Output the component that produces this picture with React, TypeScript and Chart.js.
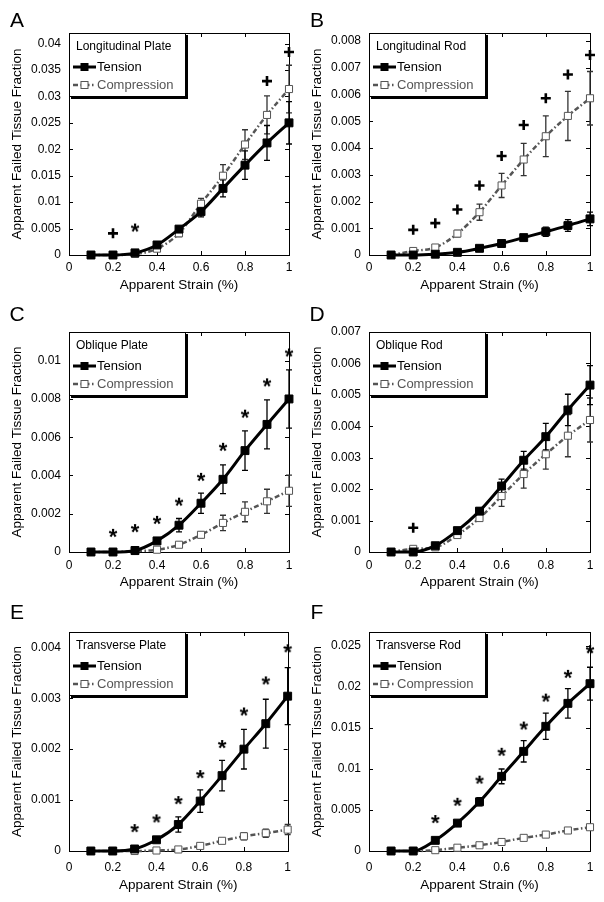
import React, { useEffect, useRef } from "react";
import { Chart, registerables } from "chart.js";

Chart.register(...registerables);

const FONT = "'Liberation Sans', Arial, Helvetica, sans-serif";
Chart.defaults.font.family = FONT;
Chart.defaults.color = "#000";

// ---------------- data ----------------
const strain = [0.1, 0.2, 0.3, 0.4, 0.5, 0.6, 0.7, 0.8, 0.9, 1.0];
const xTicks = [0, 0.2, 0.4, 0.6, 0.8, 1];
const seriesNames = ["Tension", "Compression"];

// A - Longitudinal Plate
const aTension = [0, 0, 0.0004, 0.0019, 0.0049, 0.0082, 0.0126, 0.017, 0.0212, 0.025];
const aTensionErr = [0, 0, 0.0001, 0.0002, 0.0005, 0.001, 0.0016, 0.0027, 0.0033, 0.004];
const aCompression = [0, 0, 0.0002, 0.0012, 0.0041, 0.0097, 0.015, 0.0209, 0.0265, 0.0314];
const aCompressionErr = [0, 0, 0.0001, 0.0003, 0.0006, 0.001, 0.0021, 0.0028, 0.0036, 0.0045];
const aPlus = [null, 0.0041, null, null, null, null, null, null, 0.0329, 0.0384];
const aStar = [null, null, 0.0052, null, null, null, null, null, null, null];
const aYTicks = [0, 0.005, 0.01, 0.015, 0.02, 0.025, 0.03, 0.035, 0.04];

// B - Longitudinal Rod
const bTension = [0, 0, 0.00003, 0.0001, 0.00025, 0.00043, 0.00065, 0.00087, 0.0011, 0.00135];
const bTensionErr = [0, 0, 0.00002, 0.00003, 0.00004, 0.00006, 0.0001, 0.00017, 0.00022, 0.00025];
const bCompression = [0, 0.00015, 0.00028, 0.0008, 0.0016, 0.0026, 0.00357, 0.00444, 0.0052, 0.00586];
const bCompressionErr = [0, 0.00003, 0.00005, 0.00012, 0.0003, 0.00045, 0.0006, 0.00076, 0.00092, 0.001];
const bPlus = [null, 0.00094, 0.00119, 0.0017, 0.0026, 0.0037, 0.00486, 0.00586, 0.00675, 0.00748];
const bStar = [null, null, null, null, null, null, null, null, null, null];
const bYTicks = [0, 0.001, 0.002, 0.003, 0.004, 0.005, 0.006, 0.007, 0.008];

// C - Oblique Plate
const cTension = [0, 0, 0.00008, 0.00058, 0.0014, 0.00255, 0.0038, 0.0053, 0.00667, 0.008];
const cTensionErr = [0, 0, 0.00003, 0.0001, 0.00035, 0.00053, 0.00075, 0.00103, 0.00128, 0.00152];
const cCompression = [0, 0, 0.00005, 0.00012, 0.00038, 0.0009, 0.00152, 0.0021, 0.00265, 0.0032];
const cCompressionErr = [0, 0, 0.00002, 0.00005, 0.0001, 0.00015, 0.0004, 0.00052, 0.00063, 0.00082];
const cPlus = [null, null, null, null, null, null, null, null, null, null];
const cStar = [null, 0.001, 0.00125, 0.00168, 0.00263, 0.00393, 0.0055, 0.00723, 0.00887, 0.01043];
const cYTicks = [0, 0.002, 0.004, 0.006, 0.008, 0.01];

// D - Oblique Rod
const dTension = [0, 0, 0.0002, 0.00068, 0.0013, 0.0021, 0.00292, 0.00367, 0.00452, 0.00531];
const dTensionErr = [0, 0.00002, 0.00003, 0.00005, 0.0001, 0.00022, 0.00028, 0.00042, 0.0005, 0.00062];
const dCompression = [0, 0.0001, 0.00015, 0.00054, 0.00108, 0.00178, 0.00248, 0.00311, 0.0037, 0.0042];
const dCompressionErr = [0, 0.00002, 0.00003, 0.00005, 0.0001, 0.00033, 0.00045, 0.00047, 0.00067, 0.0007];
const dPlus = [null, 0.00077, null, null, null, null, null, null, null, null];
const dStar = [null, null, null, null, null, null, null, null, null, null];
const dYTicks = [0, 0.001, 0.002, 0.003, 0.004, 0.005, 0.006, 0.007];

// E - Transverse Plate
const eTension = [0, 0, 0.00004, 0.00022, 0.00052, 0.00098, 0.00148, 0.002, 0.0025, 0.00304];
const eTensionErr = [0, 0, 0.00001, 0.00003, 0.00015, 0.00022, 0.0003, 0.00039, 0.00048, 0.00056];
const eCompression = [0, 0, 0, 0.00001, 0.00003, 0.0001, 0.0002, 0.00029, 0.00035, 0.00042];
const eCompressionErr = [0, 0, 0, 0.00001, 0.00002, 0.00003, 0.00004, 0.00007, 0.00008, 0.0001];
const ePlus = [null, null, null, null, null, null, null, null, null, null];
const eStar = [null, null, 0.00045, 0.00064, 0.001, 0.00151, 0.0021, 0.00274, 0.00335, 0.00398];
const eYTicks = [0, 0.001, 0.002, 0.003, 0.004];

// F - Transverse Rod
const fTension = [0, 0, 0.0013, 0.0034, 0.006, 0.0091, 0.01215, 0.0152, 0.018, 0.0204];
const fTensionErr = [0, 0, 0.0001, 0.0002, 0.0005, 0.0009, 0.0013, 0.0016, 0.0018, 0.002];
const fCompression = [0, 0, 0.0001, 0.0004, 0.0007, 0.0011, 0.0016, 0.002, 0.0025, 0.0029];
const fCompressionErr = [0, 0, 0.00003, 0.00005, 0.0001, 0.0001, 0.00012, 0.00015, 0.00018, 0.0002];
const fPlus = [null, null, null, null, null, null, null, null, null, null];
const fStar = [null, null, 0.0039, 0.006, 0.0087, 0.0121, 0.0153, 0.0187, 0.0216, 0.0246];
const fYTicks = [0, 0.005, 0.01, 0.015, 0.02, 0.025];

type PanelData = {
  letter: string;
  name: string;
  tension: number[];
  tensionErr: number[];
  compression: number[];
  compressionErr: number[];
  plus: (number | null)[];
  star: (number | null)[];
  yMax: number;
  yTicks: number[];
};

const panels: PanelData[] = [
  { letter: "A", name: "Longitudinal Plate", tension: aTension, tensionErr: aTensionErr, compression: aCompression, compressionErr: aCompressionErr, plus: aPlus, star: aStar, yMax: 0.042, yTicks: aYTicks },
  { letter: "B", name: "Longitudinal Rod", tension: bTension, tensionErr: bTensionErr, compression: bCompression, compressionErr: bCompressionErr, plus: bPlus, star: bStar, yMax: 0.0083, yTicks: bYTicks },
  { letter: "C", name: "Oblique Plate", tension: cTension, tensionErr: cTensionErr, compression: cCompression, compressionErr: cCompressionErr, plus: cPlus, star: cStar, yMax: 0.0115, yTicks: cYTicks },
  { letter: "D", name: "Oblique Rod", tension: dTension, tensionErr: dTensionErr, compression: dCompression, compressionErr: dCompressionErr, plus: dPlus, star: dStar, yMax: 0.007, yTicks: dYTicks },
  { letter: "E", name: "Transverse Plate", tension: eTension, tensionErr: eTensionErr, compression: eCompression, compressionErr: eCompressionErr, plus: ePlus, star: eStar, yMax: 0.0043, yTicks: eYTicks },
  { letter: "F", name: "Transverse Rod", tension: fTension, tensionErr: fTensionErr, compression: fCompression, compressionErr: fCompressionErr, plus: fPlus, star: fStar, yMax: 0.0267, yTicks: fYTicks },
];

// ---------------- layout ----------------
type Layout = { x: number; y: number; w: number; h: number; top: number; xAxisH: number; padRight: number; xTickPad: number; xTitlePad: number; letterY: number };
const layouts: Layout[] = [
  { x: 0, y: 0, w: 300, h: 300, top: 33, xAxisH: 45, padRight: 11, xTickPad: 5, xTitlePad: 7, letterY: 21 },
  { x: 300, y: 0, w: 304, h: 300, top: 33, xAxisH: 45, padRight: 14, xTickPad: 5, xTitlePad: 7, letterY: 21 },
  { x: 0, y: 300, w: 300, h: 300, top: 32, xAxisH: 48, padRight: 11, xTickPad: 6, xTitlePad: 10, letterY: 15 },
  { x: 300, y: 300, w: 304, h: 300, top: 32, xAxisH: 48, padRight: 14, xTickPad: 6, xTitlePad: 10, letterY: 15 },
  { x: 0, y: 600, w: 300, h: 302, top: 32, xAxisH: 51, padRight: 11, xTickPad: 9, xTitlePad: 9, letterY: 13 },
  { x: 300, y: 600, w: 304, h: 302, top: 32, xAxisH: 51, padRight: 14, xTickPad: 9, xTitlePad: 9, letterY: 13 },
];

const COMP_COLOR = "#555555";
const COMP_DASH = [5, 2.5, 1.5, 2.5];

const fmt = (v: number) => String(+Number(v).toPrecision(6));

let starImg: HTMLCanvasElement | null = null;
function getStar() {
  if (starImg) return starImg;
  const c = document.createElement("canvas");
  c.width = 16;
  c.height = 16;
  const g = c.getContext("2d")!;
  g.fillStyle = "#000";
  g.font = `bold 22px ${FONT}`;
  g.textAlign = "center";
  g.textBaseline = "alphabetic";
  const m = g.measureText("*");
  const top = -m.actualBoundingBoxAscent;
  const bot = m.actualBoundingBoxDescent;
  g.fillText("*", 8, 8 - (top + bot) / 2);
  starImg = c;
  return c;
}

function toPoints(vals: (number | null)[]) {
  return strain
    .map((x, i) => ({ x, y: vals[i] }))
    .filter((d) => d.y !== null && d.y !== undefined) as { x: number; y: number }[];
}

function makePlugin(p: PanelData, L: Layout) {
  return {
    id: "panelDecor",
    beforeDatasetsDraw(chart: any) {
      const { ctx, chartArea, scales } = chart;
      const { left, right, top, bottom } = chartArea;
      const xs = scales.x;
      const ys = scales.y;
      ctx.save();
      ctx.strokeStyle = "#000";
      ctx.lineWidth = 1;
      ctx.strokeRect(Math.round(left) + 0.5, Math.round(top) + 0.5, Math.round(right - left), Math.round(bottom - top));
      ctx.beginPath();
      xTicks.forEach((v) => {
        const px = Math.round(xs.getPixelForValue(v)) + 0.5;
        ctx.moveTo(px, bottom);
        ctx.lineTo(px, bottom - 4);
        ctx.moveTo(px, top);
        ctx.lineTo(px, top + 4);
      });
      p.yTicks.forEach((v) => {
        const py = Math.round(ys.getPixelForValue(v)) + 0.5;
        ctx.moveTo(left, py);
        ctx.lineTo(left + 4, py);
        ctx.moveTo(right, py);
        ctx.lineTo(right - 4, py);
      });
      ctx.stroke();
      // error bars
      const drawErr = (vals: number[], errs: number[], color: string) => {
        ctx.strokeStyle = color;
        ctx.lineWidth = 1.3;
        ctx.beginPath();
        vals.forEach((v, i) => {
          const e = errs[i];
          if (!e) return;
          const px = xs.getPixelForValue(strain[i]);
          const y1 = ys.getPixelForValue(v + e);
          const y2 = ys.getPixelForValue(Math.max(0, v - e));
          ctx.moveTo(px, y1);
          ctx.lineTo(px, y2);
          ctx.moveTo(px - 3, y1);
          ctx.lineTo(px + 3, y1);
          ctx.moveTo(px - 3, y2);
          ctx.lineTo(px + 3, y2);
        });
        ctx.stroke();
      };
      drawErr(p.compression, p.compressionErr, "#333");
      drawErr(p.tension, p.tensionErr, "#000");
      ctx.restore();
    },
    afterDatasetsDraw(chart: any) {
      const { ctx, chartArea } = chart;
      const Lx = Math.round(chartArea.left);
      const T = Math.round(chartArea.top);
      const w = 116;
      const h = 63;
      ctx.save();
      ctx.fillStyle = "#fff";
      ctx.fillRect(Lx, T, w, h);
      ctx.strokeStyle = "#000";
      ctx.lineWidth = 1;
      ctx.strokeRect(Lx + 0.5, T + 0.5, w, h);
      ctx.lineWidth = 2.5;
      ctx.beginPath();
      ctx.moveTo(Lx + w + 1.75, T + 2);
      ctx.lineTo(Lx + w + 1.75, T + h + 1.75);
      ctx.lineTo(Lx + 2, T + h + 1.75);
      ctx.stroke();
      ctx.textBaseline = "middle";
      ctx.textAlign = "left";
      ctx.fillStyle = "#000";
      ctx.font = `12px ${FONT}`;
      ctx.fillText(p.name, Lx + 7, T + 14);
      // tension entry
      const y1 = T + 34;
      ctx.strokeStyle = "#000";
      ctx.lineWidth = 3;
      ctx.beginPath();
      ctx.moveTo(Lx + 4, y1);
      ctx.lineTo(Lx + 27, y1);
      ctx.stroke();
      ctx.fillRect(Lx + 15.5 - 4, y1 - 4, 8, 8);
      ctx.font = `13px ${FONT}`;
      ctx.fillText(chart.data.datasets[0].label, Lx + 28, y1);
      // compression entry
      const y2 = T + 52;
      ctx.strokeStyle = COMP_COLOR;
      ctx.lineWidth = 2.5;
      ctx.setLineDash(COMP_DASH);
      ctx.beginPath();
      ctx.moveTo(Lx + 4, y2);
      ctx.lineTo(Lx + 27, y2);
      ctx.stroke();
      ctx.setLineDash([]);
      ctx.fillStyle = "#fff";
      ctx.fillRect(Lx + 15.5 - 3.5, y2 - 3.5, 7, 7);
      ctx.lineWidth = 1;
      ctx.strokeRect(Lx + 15.5 - 3.5, y2 - 3.5, 7, 7);
      ctx.fillStyle = COMP_COLOR;
      ctx.fillText(chart.data.datasets[1].label, Lx + 28, y2);
      ctx.restore();
    },
    afterDraw(chart: any) {
      const { ctx } = chart;
      ctx.save();
      ctx.fillStyle = "#000";
      ctx.font = `21px ${FONT}`;
      ctx.textAlign = "center";
      ctx.textBaseline = "middle";
      ctx.fillText(p.letter, 17, L.letterY);
      ctx.restore();
    },
  };
}

function Panel({ p, L }: { p: PanelData; L: Layout }) {
  const ref = useRef<HTMLCanvasElement>(null);
  useEffect(() => {
    if (!ref.current) return;
    const chart = new Chart(ref.current, {
      type: "line",
      data: {
        datasets: [
          {
            label: seriesNames[0],
            data: toPoints(p.tension),
            borderColor: "#000",
            borderWidth: 3,
            pointStyle: "rect",
            pointRadius: 5.6,
            pointBackgroundColor: "#000",
            pointBorderColor: "#000",
            pointBorderWidth: 1,
            cubicInterpolationMode: "monotone",
            clip: false,
          },
          {
            label: seriesNames[1],
            data: toPoints(p.compression),
            borderColor: COMP_COLOR,
            borderWidth: 2.5,
            borderDash: COMP_DASH,
            pointStyle: "rect",
            pointRadius: 5,
            pointBackgroundColor: "#fff",
            pointBorderColor: COMP_COLOR,
            pointBorderWidth: 1,
            cubicInterpolationMode: "monotone",
            clip: false,
          },
          {
            label: "+",
            data: toPoints(p.plus),
            showLine: false,
            pointStyle: "cross",
            pointRadius: 5,
            pointBorderWidth: 2.6,
            pointBorderColor: "#000",
            borderColor: "#000",
            clip: false,
          },
          {
            label: "*",
            data: toPoints(p.star),
            showLine: false,
            pointStyle: getStar(),
            pointRadius: 6,
            clip: false,
          },
        ],
      } as any,
      options: {
        animation: false,
        responsive: false,
        events: [],
        layout: { padding: { top: L.top, right: L.padRight, left: 0, bottom: 0 } },
        plugins: { legend: { display: false }, tooltip: { enabled: false } },
        scales: {
          x: {
            type: "linear",
            min: 0,
            max: 1,
            afterBuildTicks: (ax: any) => {
              ax.ticks = xTicks.map((v) => ({ value: v }));
            },
            afterFit: (ax: any) => {
              ax.height = L.xAxisH;
            },
            grid: { display: false, drawTicks: false },
            border: { display: false },
            ticks: {
              padding: L.xTickPad,
              font: { size: 12 },
              color: "#000",
              maxRotation: 0,
              autoSkip: false,
              callback: (v: any) => fmt(v),
            },
            title: {
              display: true,
              text: "Apparent Strain (%)",
              font: { size: 13.5 },
              color: "#000",
              padding: { top: 0, bottom: L.xTitlePad },
            },
          },
          y: {
            type: "linear",
            min: 0,
            max: p.yMax,
            afterBuildTicks: (ax: any) => {
              ax.ticks = p.yTicks.map((v) => ({ value: v }));
            },
            afterFit: (ax: any) => {
              ax.width = 69;
            },
            grid: { display: false, drawTicks: false },
            border: { display: false },
            ticks: {
              padding: 8,
              font: { size: 12 },
              color: "#000",
              autoSkip: false,
              callback: (v: any) => fmt(v),
            },
            title: {
              display: true,
              text: "Apparent Failed Tissue Fraction",
              font: { size: 13.5 },
              color: "#000",
              padding: { top: 9, bottom: 0 },
            },
          },
        },
      } as any,
      plugins: [makePlugin(p, L)],
    });
    return () => chart.destroy();
  }, [p, L]);
  return (
    <canvas
      ref={ref}
      width={L.w}
      height={L.h}
      style={{ position: "absolute", left: L.x, top: L.y, width: L.w, height: L.h }}
    />
  );
}

export default function App() {
  return (
    <div style={{ position: "absolute", left: 0, top: 0, width: 604, height: 902, background: "#fff" }}>
      {panels.map((p, i) => (
        <Panel key={p.letter} p={p} L={layouts[i]} />
      ))}
    </div>
  );
}
